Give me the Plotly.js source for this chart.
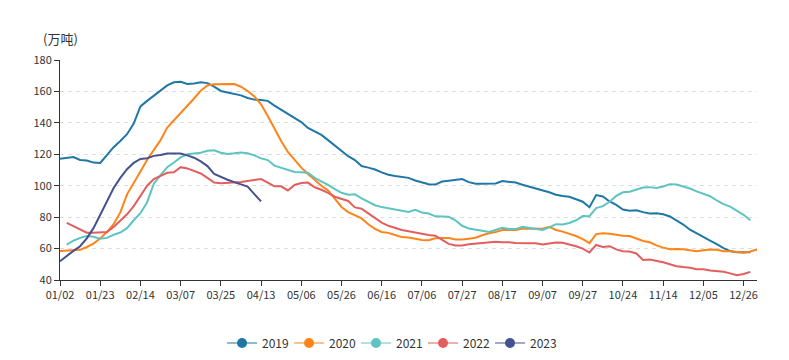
<!DOCTYPE html>
<html>
<head>
<meta charset="utf-8">
<script src="https://cdn.plot.ly/plotly-3.0.1.min.js"></script>
<style>html,body{margin:0;padding:0;background:#fff;}#chart{width:789px;height:360px;}</style>
</head>
<body>
<div id="chart"></div>
<script>
// Category tick labels (every 6th category of 105)
const tickLabels = ["01/02","01/23","02/14","03/07","03/25","04/13","05/06","05/26","06/16","07/06","07/27","08/17","09/07","09/27","10/24","11/14","12/05","12/26"];
const seriesNames = ["2019","2020","2021","2022","2023"];
const seriesColors = ["#1f77a6","#ff8418","#5ec4c1","#e35e5e","#46528e"];
const seriesFaded = ["rgba(31,119,166,0.5)","rgba(255,132,24,0.5)","rgba(94,196,193,0.5)","rgba(227,94,94,0.5)","rgba(70,82,142,0.5)"];

const y2019 = [117.2,117.8,118.2,116.4,116,114.7,114.5,119.5,124.5,128.5,132.8,139.5,150.5,154,157.2,160.3,163.8,165.8,166.2,164.8,165,165.8,165.3,163,160.3,159.3,158.5,157.5,155.8,154.8,154.6,154,151,148.5,146,143.3,140.5,136.8,134.5,132.3,129,125.5,121.8,118.8,116.3,112.5,111.5,110.3,108.5,107,106.2,105.4,105,103.3,102,100.9,100.7,102.7,103.2,103.7,104.2,102.3,101.3,101.2,101.3,101.4,103,102.3,102,100.6,99.5,98.3,97,95.8,94.3,93.4,93,91.6,89.8,86.3,94,93.2,90,87.8,84.8,84.1,84.4,83.2,82.3,82.5,81.8,80.4,77.7,75.3,72,69.5,67.3,65,62.8,60.3,58.4,57.7,57.6,57.7];
const y2020 = [58.4,58.6,58.8,59.2,61,63.2,66.5,70.5,75.5,83,94.5,101.5,109,116.5,123,129,137,141.5,146.5,150.5,155.5,160.5,163.8,164.5,164.7,164.7,164.7,163,160.3,156.8,151.8,144.3,136,128.5,121.5,116.3,111.5,107.5,103.5,100,97,92,86.5,83.2,81,79.2,75.5,72.5,70.6,70,68.6,67.3,67,66.2,65.5,65.3,66.5,66.8,66.7,65.8,65.8,66.3,66.9,68.5,69.8,70.5,71.8,71.8,71.8,72.8,72.6,72.4,72.6,73.8,71.8,70.8,69.6,68,66,63.5,69.2,69.8,69.5,68.8,68.2,68,66.5,64.8,64,62,60.6,59.6,59.8,59.6,58.9,58.3,59,59.4,59.3,58.3,58.3,57.9,57.4,58.1,59.5];
const y2021 = [null,62.5,65,66.8,68,67.5,66.3,66.8,68.8,70.2,73,78,82.5,89.5,101.3,106.7,111.8,114.8,118,120,120.3,121,122.2,122.6,121,120.2,120.6,121.1,120.6,119.3,117.4,116.3,112.8,111.3,110,108.8,108.6,108.3,105,102.8,100.5,97.8,95.5,94.2,94.5,92,89.8,87.6,86.4,85.6,84.5,83.8,83.3,84.6,83,82.3,80.5,80.4,80.2,78,74.5,72.8,72.2,71.3,70.5,72,73.2,72.5,72.4,73.8,73.2,72.5,71.8,73.5,75.5,75.3,76.3,78,80.7,80.6,85.8,87,89.8,93.5,95.8,96.2,97.6,98.8,99.1,98.5,99.5,101,100.8,99.6,98.2,96.4,94.8,93.3,90.6,88.3,86.7,84,81.5,78];
const y2022 = [null,76.4,74.2,72.2,70.1,70,70.2,70.5,73.8,78,81.8,87,93.5,100,104.2,106,108.2,108.6,111.8,111,109.5,107.8,105,102,101.6,101.7,101.8,102.3,103,103.6,104.2,102,99.6,99.6,97,100.5,101.7,102,99,97.4,95.5,93,91.8,90.3,86.2,85.4,82.4,79.5,76.5,74.5,73,71.8,71,70.1,69.6,68.6,68.2,65.5,63,62,62,62.7,63.2,63.3,63.8,64.3,64,64,63.5,63.3,63.4,63.4,62.6,63.3,63.8,63.7,62.8,61.5,60,57.5,62.3,61,61.5,59.5,58.3,58.1,56.9,52.7,53,52.3,51.3,50,48.8,48.2,47.8,46.9,46.9,46,45.6,45.3,44.2,43,43.8,45.2];
const y2023 = [52,55.5,58.5,61.5,66.5,73,81,90,98.5,105,110.5,114.5,117,117.5,119,119.5,120.5,120.3,120.5,119.3,117.8,115.5,112.5,107.5,105.5,103.8,102.3,101,99.5,94.7,90];

const allSeries = [y2019,y2020,y2021,y2022,y2023];
const traces = [];
allSeries.forEach((ys,k)=>{
  traces.push({
    x: ys.map((_,i)=>i), y: ys, type:'scatter', mode:'lines', name: seriesNames[k],
    line:{color:seriesColors[k], width:2}, showlegend:false, hoverinfo:'skip', connectgaps:false
  });
});
allSeries.forEach((ys,k)=>{
  traces.push({
    x:[null], y:[null], type:'scatter', mode:'lines+markers', name: seriesNames[k],
    line:{color:seriesFaded[k], width:2}, marker:{color:seriesColors[k], size:10}, showlegend:true
  });
});

const tickVals = tickLabels.map((_,i)=>i*6);

const layout = {
  width:789, height:360,
  margin:{l:60, r:32, t:60, b:80, pad:0, autoexpand:false},
  paper_bgcolor:'#fff', plot_bgcolor:'#fff',
  font:{family:'"Noto Sans CJK SC", "Noto Sans", sans-serif', size:11, color:'#333'},
  showlegend:true,
  legend:{orientation:'h', xref:'container', yref:'container', x:0.4937, xanchor:'center', y:0.047, yanchor:'middle',
    font:{size:12, color:'#333'}, itemwidth:30, traceorder:'normal', entrywidthmode:'pixels', entrywidth:22},
  xaxis:{range:[0,104], tickvals:tickVals, ticktext:tickLabels, showgrid:false, zeroline:false,
    showline:true, linecolor:'#333', linewidth:1, ticks:'outside', ticklen:5, tickcolor:'#333',
    tickfont:{size:11, color:'#333'}, fixedrange:true, automargin:false},
  yaxis:{range:[40,180], tickvals:[40,60,80,100,120,140,160,180], showgrid:true, gridcolor:'#dedede', griddash:'4px,4px',
    zeroline:false, showline:true, linecolor:'#333', linewidth:1, ticks:'outside', ticklen:5, tickcolor:'#333',
    tickfont:{size:11, color:'#333'}, fixedrange:true, automargin:false},
  annotations:[{text:'(万吨)', xref:'paper', yref:'paper', x:-0.027, y:1.0, yshift:22, xanchor:'left', yanchor:'middle', showarrow:false, font:{size:13, color:'#333'}}]
};
Plotly.newPlot('chart', traces, layout, {displayModeBar:false, staticPlot:true});
</script>
</body>
</html>
